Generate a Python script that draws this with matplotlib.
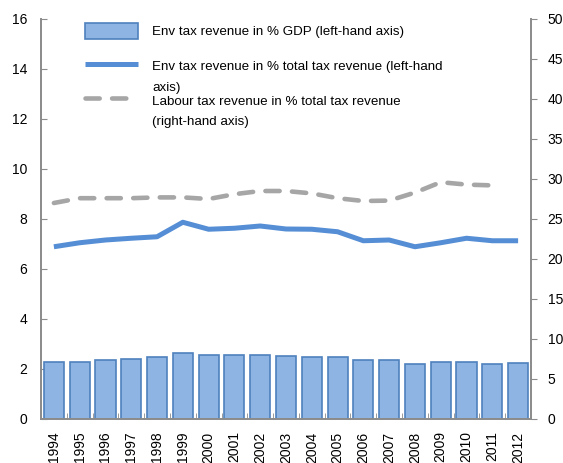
import matplotlib
matplotlib.use('Agg')
import matplotlib.pyplot as plt
import numpy as np

plt.rcParams['font.family'] = ['Liberation Sans Narrow', 'Liberation Sans', 'DejaVu Sans']

years = ['1994', '1995', '1996', '1997', '1998', '1999', '2000', '2001', '2002', '2003',
         '2004', '2005', '2006', '2007', '2008', '2009', '2010', '2011', '2012']
env_gdp = [2.30, 2.30, 2.37, 2.40, 2.47, 2.63, 2.56, 2.55, 2.57, 2.53,
           2.50, 2.47, 2.35, 2.35, 2.20, 2.27, 2.30, 2.20, 2.25]
env_total = [6.89, 7.05, 7.16, 7.23, 7.29, 7.87, 7.59, 7.63, 7.72, 7.60,
             7.59, 7.49, 7.13, 7.16, 6.89, 7.05, 7.23, 7.13, 7.13]
labour_total = [27.0, 27.6, 27.6, 27.6, 27.7, 27.7, 27.5, 28.1, 28.5, 28.5,
                28.2, 27.6, 27.25, 27.3, 28.3, 29.6, 29.3, 29.2, np.nan]

FS = 10.0      # ticks
LFS = 9.6      # legend
axis_col = '#8C8C8C'

fig = plt.figure(figsize=(5.63, 4.63), dpi=100)
ax = fig.add_axes([41/563, 44/463, 490/563, 400/463])
ax2 = ax.twinx()

x = np.arange(len(years))
bars = ax.bar(x, env_gdp, width=0.78, color='#8DB4E2', edgecolor='#4F81BD',
              linewidth=1.2, label='Env tax revenue in % GDP (left-hand axis)', zorder=2)
ln1, = ax.plot(x, env_total, color='#558ED5', lw=3.6, solid_capstyle='butt',
               label='Env tax revenue in % total tax revenue (left-hand', zorder=3)
ln2, = ax2.plot(x, labour_total, color='#A6A6A6', lw=3.3, dashes=(3.1, 2.7),
                dash_capstyle='round', label='Labour tax revenue in % total tax revenue')

ax.set_xlim(-0.5, len(years) - 0.5)
ax.set_ylim(0, 16)
ax2.set_ylim(0, 50)
ax.set_yticks(np.arange(0, 17, 2))
ax2.set_yticks(np.arange(0, 51, 5))
ax.set_xticks(x)
ax.set_xticklabels(years, rotation=90, fontsize=FS)
ax.set_xticks(x[:-1] + 0.5, minor=True)

for a in (ax, ax2):
    for s in a.spines.values():
        s.set_color(axis_col)
        s.set_linewidth(1.3)
    a.spines['top'].set_visible(False)

ax.tick_params(axis='y', direction='in', length=4, color=axis_col, labelsize=FS, pad=10)
ax2.tick_params(axis='y', direction='out', length=4, color=axis_col, labelsize=FS, pad=8)
ax.tick_params(axis='x', which='major', length=0, pad=9)
ax.tick_params(axis='x', which='minor', direction='in', length=4, color=axis_col)

leg = ax.legend(handles=[bars, ln1, ln2], loc='upper left', bbox_to_anchor=(0.09, 0.99),
                frameon=False, fontsize=LFS, borderpad=0, borderaxespad=0,
                handlelength=3.97, handleheight=1.43, handletextpad=1.05, labelspacing=1.425)
ax.text(0.2265, 0.8275, 'axis)', transform=ax.transAxes, fontsize=LFS, va='center')
ax.text(0.2265, 0.7425, '(right-hand axis)', transform=ax.transAxes, fontsize=LFS, va='center')

fig.savefig('out.png', dpi=100)
